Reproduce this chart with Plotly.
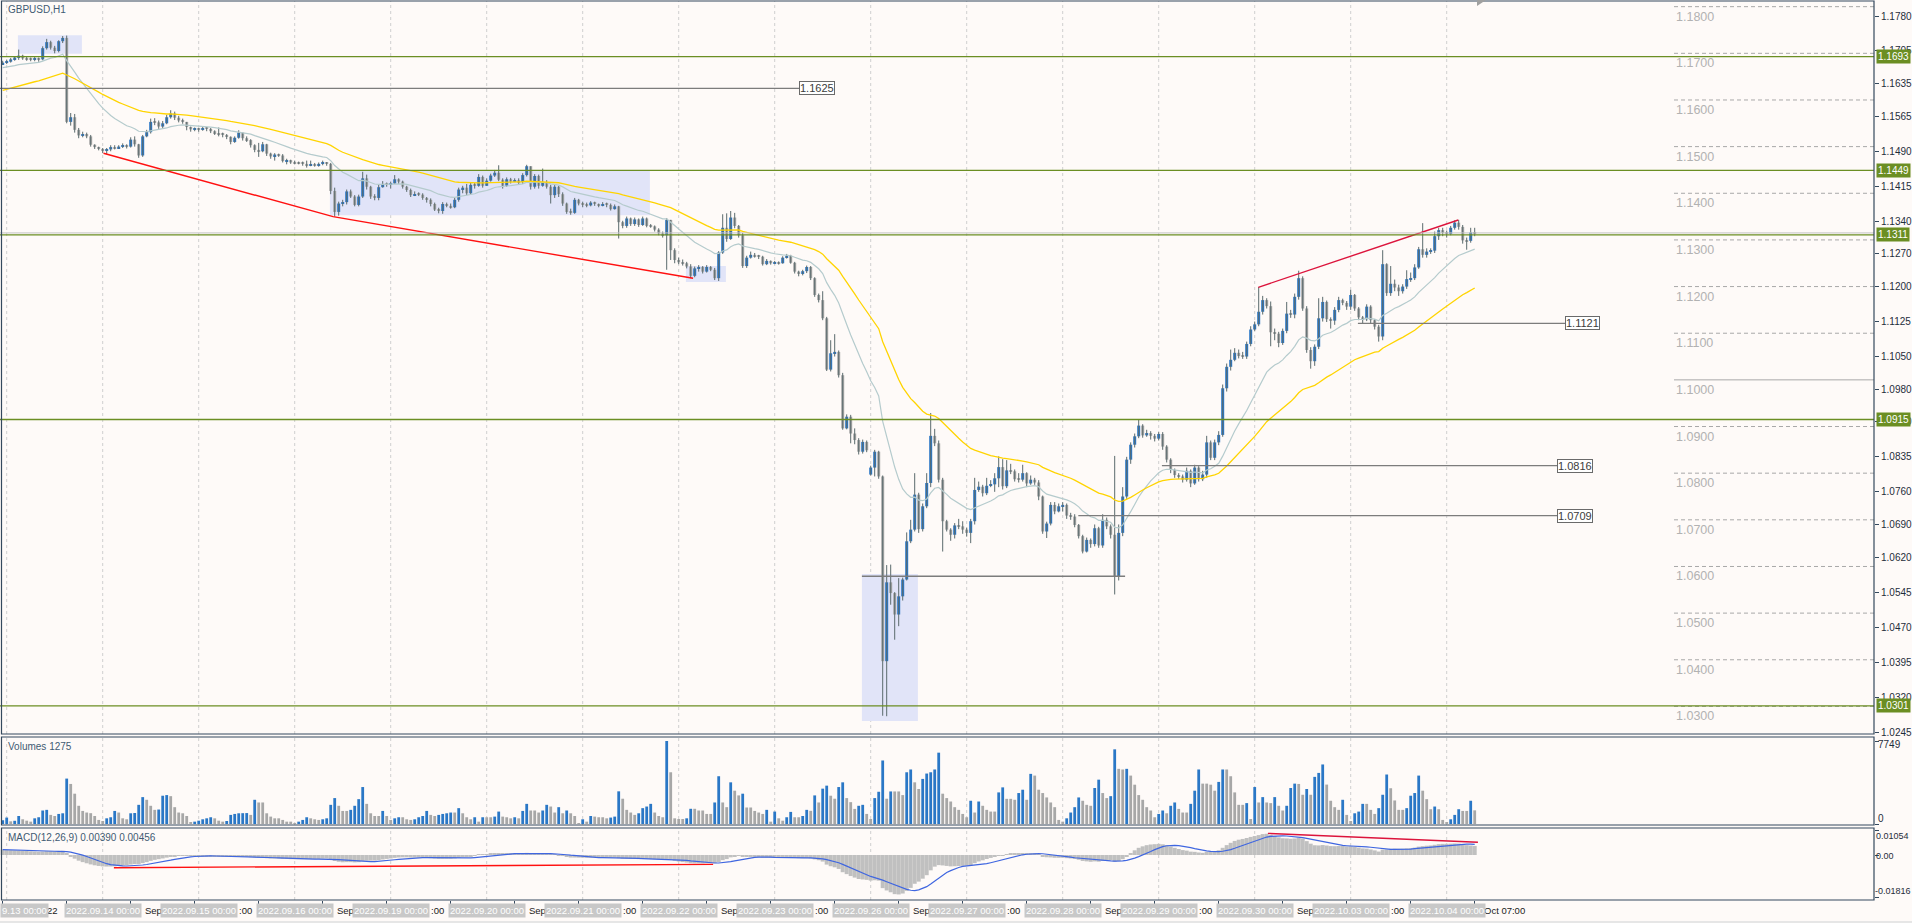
import plotly.graph_objects as go

# ---------------------------------------------------------------- data
title_text = "GBPUSD,H1"
volume_title = "Volumes 1275"
macd_title = "MACD(12,26,9) 0.00390 0.00456"

day_dates = ["2022.09.13", "2022.09.14", "2022.09.15", "2022.09.16", "2022.09.19",
             "2022.09.20", "2022.09.21", "2022.09.22", "2022.09.23", "2022.09.26",
             "2022.09.27", "2022.09.28", "2022.09.29", "2022.09.30", "2022.10.03",
             "2022.10.04"]
month_names = {"09": "Sep", "10": "Oct"}

first_bar = -1              # Sep 12 23:00 (partly visible)
first_open_pips = 1676      # prices stored as pips above 1.0000
gap_open_pips = {216: 797}  # Monday gap open

close_pips = [
    1680,
    1682, 1687, 1691, 1695, 1689, 1688, 1686, 1689, 1687, 1711, 1724, 1712, 1705, 1726, 1733, 1553, 1563, 1536, 1524, 1527, 1522, 1504, 1499, 1495,
    1491, 1494, 1499, 1497, 1500, 1503, 1500, 1515, 1505, 1481, 1522, 1531, 1553, 1552, 1543, 1550, 1563, 1571, 1562, 1556, 1553, 1542, 1537, 1538,
    1536, 1540, 1538, 1533, 1529, 1527, 1525, 1521, 1510, 1519, 1530, 1518, 1514, 1503, 1493, 1490, 1505, 1485, 1479, 1483, 1481, 1469, 1471, 1466,
    1465, 1465, 1463, 1460, 1462, 1460, 1463, 1466, 1463, 1405, 1360, 1378, 1381, 1404, 1393, 1375, 1393, 1432, 1414, 1393, 1390, 1413, 1420, 1419,
    1421, 1430, 1425, 1414, 1407, 1396, 1398, 1397, 1390, 1386, 1377, 1365, 1362, 1377, 1373, 1370, 1386, 1408, 1412, 1400, 1418, 1416, 1435, 1416,
    1427, 1438, 1444, 1429, 1416, 1430, 1425, 1428, 1424, 1439, 1458, 1414, 1437, 1416, 1424, 1414, 1396, 1414, 1398, 1378, 1360, 1358, 1386, 1378,
    1376, 1374, 1380, 1377, 1374, 1377, 1375, 1366, 1372, 1338, 1330, 1346, 1334, 1344, 1332, 1346, 1330, 1329, 1322, 1314, 1310, 1343, 1278, 1257,
    1252, 1250, 1243, 1223, 1239, 1242, 1232, 1242, 1236, 1218, 1273, 1326, 1302, 1348, 1330, 1310, 1244, 1262, 1268, 1265, 1264, 1248, 1255, 1250,
    1252, 1250, 1262, 1266, 1251, 1232, 1227, 1233, 1242, 1218, 1182, 1171, 1132, 1022, 1057, 1060, 1010, 896, 921, 885, 871, 846, 867, 849,
    812, 846, 793, 397, 566, 543, 497, 536, 572, 654, 679, 754, 680, 729, 779, 880, 864, 786, 697, 679, 668, 688, 686, 679,
    672, 697, 764, 771, 757, 773, 776, 789, 813, 772, 806, 804, 787, 786, 800, 778, 786, 780, 750, 675, 692, 732, 718, 729,
    732, 709, 707, 689, 665, 632, 657, 648, 682, 645, 700, 686, 668, 579, 672, 750, 829, 861, 879, 902, 881, 886, 880, 874,
    884, 857, 829, 807, 796, 793, 786, 805, 778, 812, 787, 797, 866, 833, 866, 882, 982, 1028, 1043, 1058, 1051, 1050, 1077, 1108,
    1119, 1146, 1171, 1158, 1102, 1099, 1079, 1105, 1142, 1140, 1178, 1218, 1153, 1064, 1040, 1071, 1132, 1167, 1130, 1127, 1150, 1171, 1165, 1157,
    1182, 1153, 1134, 1130, 1157, 1128, 1114, 1093, 1248, 1186, 1206, 1198, 1190, 1200, 1216, 1218, 1241, 1280, 1268, 1275, 1277, 1308, 1321, 1315,
    1313, 1326, 1337, 1328, 1299, 1298, 1316, 1315,
]

high_pips = [
    1684,
    1686, 1690, 1694, 1708, 1697, 1693, 1691, 1692, 1691, 1715, 1731, 1727, 1716, 1728, 1737, 1738, 1572, 1570, 1540, 1532, 1530, 1525, 1505, 1500,
    1497, 1497, 1503, 1503, 1503, 1507, 1505, 1520, 1522, 1506, 1525, 1536, 1560, 1561, 1556, 1555, 1568, 1578, 1575, 1566, 1560, 1552, 1543, 1541,
    1540, 1543, 1542, 1540, 1535, 1541, 1530, 1527, 1522, 1522, 1535, 1530, 1522, 1516, 1505, 1508, 1510, 1506, 1487, 1486, 1485, 1484, 1474, 1472,
    1470, 1468, 1468, 1470, 1470, 1465, 1466, 1470, 1467, 1465, 1412, 1382, 1386, 1408, 1408, 1396, 1397, 1446, 1440, 1416, 1398, 1418, 1426, 1423,
    1425, 1439, 1432, 1427, 1416, 1410, 1404, 1402, 1400, 1392, 1389, 1380, 1369, 1381, 1380, 1378, 1390, 1412, 1416, 1420, 1423, 1422, 1441, 1438,
    1432, 1442, 1450, 1460, 1432, 1434, 1433, 1432, 1432, 1443, 1461, 1458, 1441, 1440, 1453, 1428, 1418, 1418, 1416, 1402, 1380, 1367, 1390, 1388,
    1382, 1380, 1383, 1382, 1378, 1381, 1380, 1378, 1376, 1373, 1341, 1350, 1348, 1348, 1346, 1350, 1348, 1334, 1331, 1325, 1318, 1347, 1342, 1282,
    1262, 1258, 1253, 1248, 1243, 1246, 1244, 1246, 1244, 1240, 1276, 1355, 1357, 1362, 1358, 1332, 1315, 1266, 1275, 1272, 1268, 1266, 1259, 1256,
    1255, 1254, 1265, 1270, 1268, 1253, 1234, 1236, 1245, 1244, 1220, 1185, 1190, 1135, 1085, 1098, 1063, 1015, 926, 925, 896, 875, 872, 870,
    816, 850, 848, 795, 603, 604, 545, 575, 576, 673, 700, 800, 758, 735, 800, 929, 895, 870, 790, 700, 682, 693, 702, 697,
    683, 702, 790, 782, 775, 790, 785, 800, 836, 830, 828, 820, 808, 800, 818, 802, 795, 790, 785, 752, 696, 738, 738, 735,
    738, 735, 715, 712, 691, 668, 662, 660, 690, 685, 712, 705, 690, 837, 690, 770, 835, 866, 885, 916, 905, 893, 890, 884,
    888, 888, 860, 832, 810, 800, 797, 812, 808, 818, 815, 805, 880, 870, 872, 890, 990, 1035, 1065, 1068, 1065, 1060, 1082, 1115,
    1125, 1199, 1180, 1175, 1168, 1110, 1103, 1110, 1167, 1150, 1185, 1234, 1222, 1158, 1070, 1076, 1175, 1178, 1170, 1134, 1156, 1178, 1174, 1169,
    1193, 1184, 1156, 1137, 1162, 1160, 1130, 1118, 1278, 1250, 1244, 1215, 1204, 1205, 1235, 1230, 1248, 1285, 1336, 1282, 1282, 1318, 1326, 1326,
    1320, 1330, 1342, 1343, 1332, 1305, 1326, 1326,
]

low_pips = [
    1675,
    1677, 1680, 1684, 1686, 1686, 1684, 1683, 1683, 1682, 1685, 1708, 1708, 1700, 1702, 1722, 1550, 1545, 1530, 1518, 1520, 1518, 1500, 1495, 1492,
    1486, 1484, 1490, 1494, 1495, 1497, 1496, 1498, 1500, 1476, 1478, 1520, 1528, 1546, 1538, 1540, 1548, 1560, 1557, 1552, 1549, 1535, 1532, 1533,
    1532, 1534, 1533, 1529, 1525, 1522, 1520, 1516, 1505, 1508, 1517, 1513, 1510, 1498, 1488, 1478, 1488, 1480, 1474, 1470, 1478, 1466, 1462, 1463,
    1462, 1462, 1459, 1455, 1458, 1457, 1457, 1460, 1459, 1398, 1350, 1352, 1372, 1376, 1390, 1372, 1372, 1390, 1408, 1388, 1385, 1385, 1412, 1414,
    1410, 1420, 1420, 1410, 1403, 1392, 1394, 1394, 1386, 1380, 1372, 1362, 1357, 1356, 1370, 1367, 1368, 1382, 1400, 1396, 1398, 1410, 1414, 1412,
    1416, 1425, 1435, 1426, 1410, 1414, 1421, 1424, 1420, 1420, 1436, 1408, 1410, 1410, 1414, 1410, 1378, 1390, 1392, 1373, 1356, 1354, 1356, 1374,
    1370, 1370, 1372, 1373, 1370, 1372, 1370, 1363, 1365, 1303, 1325, 1326, 1330, 1330, 1328, 1330, 1327, 1326, 1318, 1310, 1305, 1236, 1257, 1250,
    1248, 1245, 1239, 1218, 1220, 1232, 1228, 1230, 1233, 1214, 1212, 1270, 1296, 1300, 1325, 1305, 1240, 1240, 1260, 1262, 1259, 1245, 1246, 1247,
    1248, 1247, 1249, 1260, 1249, 1228, 1222, 1224, 1229, 1214, 1178, 1166, 1128, 1019, 1018, 1050, 1005, 893, 894, 864, 862, 840, 842, 845,
    795, 793, 788, 280, 279, 518, 443, 472, 527, 570, 650, 675, 672, 675, 725, 770, 858, 780, 632, 675, 655, 660, 680, 670,
    664, 650, 690, 760, 750, 753, 770, 760, 770, 765, 768, 798, 782, 780, 782, 770, 775, 775, 742, 670, 661, 688, 712, 716,
    718, 702, 700, 684, 660, 628, 630, 640, 643, 640, 640, 680, 660, 540, 570, 665, 745, 820, 855, 875, 876, 878, 872, 868,
    870, 850, 823, 800, 790, 788, 780, 782, 770, 775, 782, 783, 790, 828, 828, 860, 878, 975, 1020, 1040, 1046, 1045, 1045, 1072,
    1105, 1115, 1140, 1153, 1072, 1085, 1070, 1075, 1100, 1133, 1132, 1172, 1148, 1058, 1024, 1030, 1066, 1125, 1124, 1110, 1118, 1145, 1160, 1150,
    1150, 1148, 1128, 1120, 1126, 1120, 1108, 1082, 1085, 1180, 1180, 1190, 1180, 1185, 1195, 1210, 1214, 1238, 1262, 1262, 1270, 1272, 1300, 1308,
    1305, 1310, 1322, 1322, 1292, 1279, 1294, 1308,
]

volume = [
    350,
    600, 250, 300, 750, 440, 310, 220, 530, 630, 1260, 1320, 850, 750, 940, 1000, 4240, 3740, 2830, 1700, 1220, 1070, 1010, 750, 380,
    280, 530, 630, 1220, 1070, 530, 440, 1000, 1030, 1790, 2510, 2260, 1700, 1320, 1350, 2640, 2700, 2600, 1570, 1070, 1000, 750, 160, 220,
    310, 440, 530, 630, 530, 310, 220, 280, 850, 940, 1000, 1010, 1020, 850, 2260, 2010, 2010, 1000, 690, 530, 530, 380, 220, 220,
    60, 220, 380, 630, 530, 440, 380, 440, 530, 1790, 2420, 1700, 1220, 1220, 1320, 1700, 2320, 3450, 1880, 1000, 750, 750, 1220, 750,
    380, 530, 630, 630, 440, 380, 440, 630, 750, 1220, 850, 750, 850, 940, 1000, 1070, 1070, 1480, 1000, 630, 440, 630, 220, 630,
    630, 630, 690, 1160, 690, 630, 530, 630, 530, 1220, 1880, 1260, 1260, 1070, 1260, 1790, 1630, 1070, 1570, 1000, 1260, 1000, 750, 60,
    440, 220, 750, 690, 630, 630, 530, 600, 690, 3050, 2360, 1320, 1070, 850, 1000, 1480, 1630, 1880, 1070, 750, 630, 7749, 4830, 530,
    470, 470, 530, 1420, 1420, 1260, 1260, 940, 940, 2010, 4460, 2010, 1570, 3890, 3110, 2670, 2830, 1540, 1540, 1220, 1070, 940, 1320, 220,
    1160, 530, 310, 630, 1130, 630, 630, 750, 1320, 1230, 2670, 2010, 3300, 3580, 2640, 2360, 3450, 3890, 2420, 2040, 1410, 1700, 1790, 940,
    470, 2420, 3010, 5930, 2360, 3040, 3040, 3040, 2700, 4830, 5090, 3890, 3270, 4210, 4710, 4830, 5090, 6660, 2830, 2420, 2100, 1570, 1320, 940,
    630, 2170, 1070, 2100, 1700, 1320, 1160, 1160, 2950, 3420, 2350, 2350, 2260, 2890, 3200, 2260, 4680, 4520, 3200, 2890, 2480, 2010, 1570, 380,
    220, 530, 1070, 1570, 2480, 2170, 1790, 1700, 3360, 4140, 2890, 2420, 2600, 6970, 5150, 5090, 5150, 4520, 3670, 2700, 2260, 1570, 1260, 630,
    940, 1260, 1000, 1700, 2010, 1410, 1070, 1070, 1880, 3110, 5090, 3770, 3770, 3670, 3110, 3930, 5090, 5090, 4460, 2950, 1790, 1790, 1950, 470,
    3450, 2010, 2510, 2010, 1950, 2510, 1700, 1260, 1700, 3360, 3770, 3740, 2730, 3270, 2730, 4400, 4770, 5560, 3680, 2170, 1570, 1320, 2260, 850,
    280, 1000, 1160, 1880, 1880, 1320, 940, 1480, 2730, 4620, 3340, 2200, 1320, 1320, 1480, 2640, 2890, 4520, 3110, 2320, 1380, 1630, 1380, 380,
    130, 440, 850, 1380, 1220, 1220, 2170, 1275,
]

# indicator seeds read at the left edge of the picture
ema_fast_period, ema_fast_seed = 20, 1.1668
ema_slow_period, ema_slow_seed = 50, 1.1618
macd_seed = 0.0025

price_ticks = [1.1780, 1.1705, 1.1635, 1.1565, 1.1490, 1.1415, 1.1340, 1.1270, 1.1200,
               1.1125, 1.1050, 1.0980, 1.0910, 1.0835, 1.0760, 1.0690, 1.0620, 1.0545,
               1.0470, 1.0395, 1.0320, 1.0245]
volume_axis_labels = ["7749", "0"]
macd_axis_labels = ["0.01054", "0.00", "-0.01816"]

green_levels = [1.1693, 1.1449, 1.1311, 1.0915, 1.0301]
gray_levels = [1.1625, 1.1121, 1.0816, 1.0709, 1.0579]
gray_level_start = [-3, 337.8, 288.8, 267.9, 213.8]
gray_level_end = [198.1, 389.6, 387.6, 387.6, 279.6]
gray_level_labelled = [True, True, True, True, False]
round_levels = [1.18, 1.17, 1.16, 1.15, 1.14, 1.13, 1.12, 1.11, 1.10, 1.09, 1.08,
                1.07, 1.06, 1.05, 1.04, 1.03]

zones_bar0 = [2.8, 80.8, 169.8, 213.8]
zones_bar1 = [18.8, 160.8, 179.8, 227.8]
zones_low = [1.1699, 1.1353, 1.1210, 1.0269]
zones_high = [1.1739, 1.1448, 1.1244, 1.0584]

trend_red_bars = [24.2, 81.6, 171.6]
trend_red_prices = [1.14857, 1.13498, 1.12177]
trend_crimson_bars = [312.9, 362.9]
trend_crimson_prices = [1.11984, 1.13427]
macd_red_bars = [26.8, 176.6]
macd_red_values = [-0.0054, -0.0040]
macd_crimson_bars = [315.3, 367.8]
macd_crimson_values = [0.0092, 0.0054]

# ---------------------------------------------------------------- style
FONT = "Liberation Sans, Arial, sans-serif"
BG = "#fefaf8"
AX = "#34495e"
TXT = "#1f2d3b"
LBL = "#3f5a73"
UP = "#2a77c6"
DN = "#a7a7a7"
WICK = "#5a6a6d"
W, HGT, PLOT_R = 1912, 923, 1874
BAR_PX = 4.0


def px_x(px):
    return px / PLOT_R


def px_y(py):
    return 1 - py / HGT


# ---------------------------------------------------------------- series
n = min(len(close_pips), len(high_pips), len(low_pips), len(volume))
bars = list(range(first_bar, first_bar + n))
C = [1 + p / 10000 for p in close_pips[:n]]
O = []
prev = 1 + first_open_pips / 10000
for i, b in enumerate(bars):
    o = 1 + gap_open_pips[b] / 10000 if b in gap_open_pips else prev
    O.append(o)
    prev = C[i]
Hs = [max(1 + high_pips[i] / 10000, O[i], C[i]) for i in range(n)]
Ls = [min(1 + low_pips[i] / 10000, O[i], C[i]) for i in range(n)]


def ema(vals, period, seed):
    a = 2 / (period + 1)
    out, e = [], seed
    for v in vals:
        e = e + a * (v - e)
        out.append(e)
    return out


ema_fast = ema(C, ema_fast_period, ema_fast_seed)
ema_slow = ema(C, ema_slow_period, ema_slow_seed)
e12 = ema(C, 12, C[0])
e26 = ema(C, 26, C[0] - macd_seed)
macd = [a - b for a, b in zip(e12, e26)]
signal = [sum(macd[max(0, i - 8):i + 1]) / len(macd[max(0, i - 8):i + 1]) for i in range(n)]

wx, wy = [], []
for i, b in enumerate(bars):
    wx += [b, b, None]
    wy += [Ls[i], Hs[i], None]

MINB = 0.00022
ux, ub, uh, dx, db, dh = [], [], [], [], [], []
for i, b in enumerate(bars):
    lo, hgt = min(O[i], C[i]), abs(C[i] - O[i])
    if hgt < MINB:
        lo, hgt = (O[i] + C[i]) / 2 - MINB / 2, MINB
    if C[i] > O[i]:
        ux.append(b); ub.append(lo); uh.append(hgt)
    else:
        dx.append(b); db.append(lo); dh.append(hgt)

vol = volume[:n]
vcol = [UP if (i == 0 or vol[i] > vol[i - 1]) else DN for i in range(n)]

# ---------------------------------------------------------------- figure
fig = go.Figure()
fig.add_trace(go.Scatter(x=wx, y=wy, mode="lines", line=dict(color=WICK, width=1),
                         hoverinfo="skip"))
fig.add_trace(go.Bar(x=ux, y=uh, base=ub, width=0.75, marker=dict(color=UP, line=dict(width=0)),
                     hoverinfo="skip"))
fig.add_trace(go.Bar(x=dx, y=dh, base=db, width=0.75, marker=dict(color=DN, line=dict(width=0)),
                     hoverinfo="skip"))
fig.add_trace(go.Scatter(x=bars, y=ema_fast, mode="lines", line=dict(color="#b5cbcd", width=1.2),
                         hoverinfo="skip"))
fig.add_trace(go.Scatter(x=bars, y=ema_slow, mode="lines", line=dict(color="#ffd400", width=1.3),
                         hoverinfo="skip"))
fig.add_trace(go.Scatter(x=trend_red_bars, y=trend_red_prices, mode="lines",
                         line=dict(color="#ff1010", width=1.4), hoverinfo="skip"))
fig.add_trace(go.Scatter(x=trend_crimson_bars, y=trend_crimson_prices, mode="lines",
                         line=dict(color="#dc143c", width=1.4), hoverinfo="skip"))
# volume pane
fig.add_trace(go.Bar(x=bars, y=vol, width=0.7, marker=dict(color=vcol, line=dict(width=0)),
                     yaxis="y2", hoverinfo="skip"))
# macd pane
fig.add_trace(go.Bar(x=bars, y=macd, width=1.0, marker=dict(color="#c0c0c0", line=dict(width=0)),
                     yaxis="y3", hoverinfo="skip"))
fig.add_trace(go.Scatter(x=bars, y=signal, mode="lines", line=dict(color="#3f66e0", width=1.2),
                         yaxis="y3", hoverinfo="skip"))
fig.add_trace(go.Scatter(x=macd_red_bars, y=macd_red_values, mode="lines",
                         line=dict(color="#ff1010", width=1.4), yaxis="y3", hoverinfo="skip"))
fig.add_trace(go.Scatter(x=macd_crimson_bars, y=macd_crimson_values, mode="lines",
                         line=dict(color="#dc143c", width=1.4), yaxis="y3", hoverinfo="skip"))

# ---------------------------------------------------------------- axes
PPU, REF_P, REF_Y = 4665.0, 1.1780, 16.0
price_range = [REF_P - (734 - REF_Y) / PPU, REF_P + (REF_Y - 1) / PPU]
VPP = 7749 / 83.0
vol_range = [-VPP, 7749 + 4 * VPP]
MPP = 1 / 2351.0
macd_range = [-(900 - 855) * MPP, (855 - 828) * MPP]
X0_PX = 6.7
x_range = [-X0_PX / BAR_PX, -X0_PX / BAR_PX + PLOT_R / BAR_PX]


def bar_px(b):
    return (b - x_range[0]) * BAR_PX


main_dom = [px_y(734), px_y(1)]
vol_dom = [px_y(825), px_y(737)]
macd_dom = [px_y(900), px_y(828)]

tick_bars = [first_bar] + list(range(15, bars[-1] + 1, 16))

common_y = dict(side="right", anchor="x", showgrid=False, zeroline=False, showline=False,
                ticks="outside", ticklen=4, tickcolor=AX, automargin=False, fixedrange=True)
fig.update_layout(
    width=W, height=HGT, margin=dict(l=0, r=W - PLOT_R, t=0, b=0),
    paper_bgcolor=BG, plot_bgcolor=BG, showlegend=False, barmode="overlay",
    xaxis=dict(domain=[0, 1], range=x_range, anchor="y3", showgrid=False, zeroline=False,
               showline=False, showticklabels=False, ticks="outside", tickvals=tick_bars,
               ticklen=4, tickcolor=AX, automargin=False),
    yaxis=dict(domain=main_dom, range=price_range, tickvals=price_ticks,
               ticktext=[f"{v:.4f}" for v in price_ticks],
               tickfont=dict(family=FONT, size=10, color=TXT), **common_y),
    yaxis2=dict(domain=vol_dom, range=vol_range, tickvals=[7749, 0], showticklabels=False,
                **common_y),
    yaxis3=dict(domain=macd_dom, range=macd_range, tickvals=[0.01054, 0, -0.01816],
                showticklabels=False, **common_y),
)

shapes = []
for b0, b1, lo, hi in zip(zones_bar0, zones_bar1, zones_low, zones_high):
    shapes.append(dict(type="rect", xref="x", yref="y", x0=b0, x1=b1, y0=lo, y1=hi,
                       fillcolor="#e1e4f8", line=dict(width=0), layer="below"))
for d in range(len(day_dates)):
    for ax in ("y", "y2", "y3"):
        shapes.append(dict(type="line", xref="x", yref=f"{ax} domain", x0=24 * d, x1=24 * d,
                           y0=0, y1=1, line=dict(color="#cfcfcf", width=1, dash="3px,3px"),
                           layer="below"))
for lv in round_levels:
    solid = abs(lv - 1.10) < 1e-9
    shapes.append(dict(type="line", xref="paper", yref="y", x0=px_x(1674), x1=1, y0=lv, y1=lv,
                       line=dict(color="#a8a8a8", width=1, dash="solid" if solid else "4px,3px")))
shapes.append(dict(type="line", xref="x domain", yref="y", x0=0, x1=1, y0=C[-1], y1=C[-1],
                   line=dict(color="#c4c4c4", width=1)))
for lv in green_levels:
    shapes.append(dict(type="line", xref="x domain", yref="y", x0=0, x1=1, y0=lv, y1=lv,
                       line=dict(color="#6b8e23", width=1.3)))
for lv, s, e in zip(gray_levels, gray_level_start, gray_level_end):
    shapes.append(dict(type="line", xref="x", yref="y", x0=s, x1=e, y0=lv, y1=lv,
                       line=dict(color="#7c7c7c", width=1.3)))
for dom in (main_dom, vol_dom, macd_dom):
    shapes.append(dict(type="rect", xref="paper", yref="paper", x0=px_x(1.5), x1=1,
                       y0=dom[0], y1=dom[1], line=dict(color=AX, width=1.2),
                       fillcolor="rgba(0,0,0,0)"))
shapes.append(dict(type="path", xref="paper", yref="paper",
                   path=f"M {px_x(1477)},{px_y(0)} L {px_x(1486)},{px_y(0)} L {px_x(1477)},{px_y(6)} Z",
                   fillcolor="#a0a0a0", line=dict(width=0)))
shapes.append(dict(type="rect", xref="paper", yref="paper", x0=0, x1=W / PLOT_R,
                   y0=0, y1=px_y(921), fillcolor="#e6e6e6", line=dict(width=0)))

ann = []


def text(x, y, s, size=10, color=TXT, xanchor="left", yanchor="middle", xref="paper",
         yref="paper", **kw):
    ann.append(dict(x=x, y=y, xref=xref, yref=yref, text=s, showarrow=False, xanchor=xanchor,
                    yanchor=yanchor, font=dict(family=FONT, size=size, color=color), **kw))


text(px_x(6), px_y(10), title_text, size=10, color=LBL)
text(px_x(6), px_y(746), volume_title, size=10, color=LBL)
text(px_x(6), px_y(837), macd_title, size=10, color=LBL)

text(px_x(1877), px_y(744), volume_axis_labels[0], size=10, borderpad=0)
text(px_x(1877), px_y(818), volume_axis_labels[1], size=10, borderpad=0)
text(px_x(1876), px_y(836), macd_axis_labels[0], size=9, borderpad=0, borderwidth=0)
text(px_x(1876), px_y(856), macd_axis_labels[1], size=9, borderpad=0, borderwidth=0)
text(px_x(1875), px_y(891), macd_axis_labels[2], size=9, borderpad=0, borderwidth=0)

for lv in green_levels:
    text(px_x(1876), lv, f"{lv:.4f}", size=10, color="#ffffff", yref="y",
         bgcolor="#6b8e23", borderpad=1)

for lv, e, lab in zip(gray_levels, gray_level_end, gray_level_labelled):
    if lab:
        text(e, lv, f"{lv:.4f}", size=11, color="#3c3c3c", xref="x", yref="y",
             bgcolor="#ffffff", bordercolor="#6a6a6a", borderwidth=1, borderpad=0)

for lv in round_levels:
    text(px_x(1674), lv, f"{lv:.4f}", size=12.5, color="#b2b2b2", yref="y",
         yanchor="top", yshift=-1)

# ---------------------------------------------------------------- time axis
TS = 9.5
CHAR_W = {" ": 0.278, ":": 0.278, ".": 0.278, "S": 0.667, "e": 0.556, "p": 0.556,
          "O": 0.778, "c": 0.5, "t": 0.278}


def cw(ch):
    return CHAR_W.get(ch, 0.556) * TS


def bar_label(b):
    if b < 0:
        d0 = day_dates[0]
        return f"{int(d0[8:])} {month_names[d0[5:7]]} {d0[:4]}"
    d = day_dates[b // 24]
    return f"{int(d[8:])} {month_names[d[5:7]]} {b % 24:02d}:00"


day_labels = [f"{ds} 00:00" for ds in day_dates]
box_ctr = [bar_px(24 * d) for d in range(len(day_dates))]
box_half = [(sum(cw(ch) for ch in s) + 2) / 2 for s in day_labels]


def hidden(c):
    return any(abs(c - bc) < bh for bc, bh in zip(box_ctr, box_half))


# regular time labels: only the parts not covered by the day-separator boxes
for b in tick_bars:
    lab = bar_label(b)
    pos = bar_px(b) + 1
    runs, cur = [], None
    for ch in lab:
        w = cw(ch)
        if not hidden(pos + w / 2) and pos + w / 2 > 0:
            if cur is None:
                cur = [pos, ""]
            cur[1] += ch
        elif cur is not None:
            runs.append(cur)
            cur = None
        pos += w
    if cur is not None:
        runs.append(cur)
    for start, s in runs:
        while s.startswith(" "):
            start += cw(" ")
            s = s[1:]
        s = s.rstrip()
        if s:
            text(b, px_y(910), s, size=TS, color="#1a1a1a", xref="x",
                 xshift=start - bar_px(b), borderpad=0, borderwidth=0)

# day separator labels (grey boxes); the first one is cut by the left edge
for d, s in enumerate(day_labels):
    left = box_ctr[d] - box_half[d] + 1
    if left < 0:
        pos, vis = left, ""
        for ch in s:
            if pos + cw(ch) / 2 >= 0:
                vis += ch
            pos += cw(ch)
        text(0, px_y(910), vis, size=TS, color="#ffffff", xanchor="left",
             bgcolor="#c8c8c8", borderpad=1)
    else:
        text(24 * d, px_y(910), s, size=TS, color="#ffffff", xref="x",
             xanchor="center", bgcolor="#c8c8c8", borderpad=1)

if not (len(close_pips) == len(high_pips) == len(low_pips) == len(volume) == 369):
    text(0.3, 0.5, f"LEN C{len(close_pips)} H{len(high_pips)} L{len(low_pips)} V{len(volume)}",
         size=30, color="red")

fig.update_layout(shapes=shapes, annotations=ann)
fig.write_html("out.html", config={"displayModeBar": False},
               post_script="document.body.style.margin='0';"
                           "document.documentElement.style.overflow='hidden';")
